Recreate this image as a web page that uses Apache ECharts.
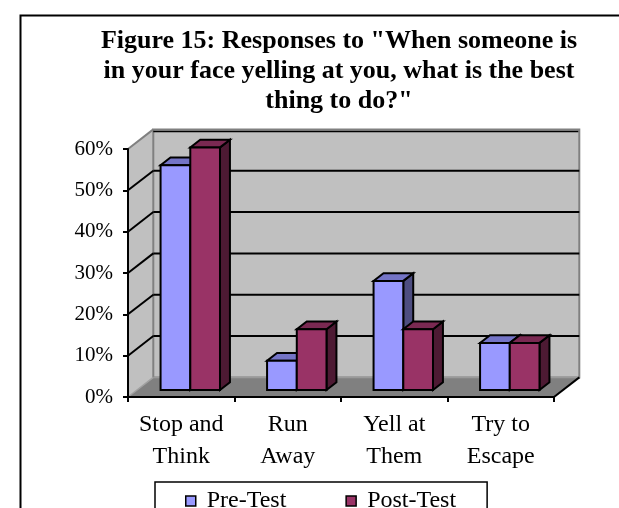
<!DOCTYPE html>
<html>
<head>
<meta charset="utf-8">
<script src="https://cdn.jsdelivr.net/npm/echarts@6/dist/echarts.min.js"></script>
<style>
  html, body { margin: 0; padding: 0; background: #fff; }
  #chart { width: 619px; height: 508px; }
</style>
</head>
<body>
<div id="chart"></div>
<script>
// Survey answers, percent of respondents
const categories = ['Stop and\nThink', 'Run\nAway', 'Yell at\nThem', 'Try to\nEscape'];
const seriesNames = ['Pre-Test', 'Post-Test'];
const preTest = [54.4, 7.1, 26.4, 11.4];
const postTest = [58.7, 14.7, 14.7, 11.4];
const yMax = 60;
const yStep = 10;

const titleText = 'Figure 15: Responses to "When someone is\nin your face yelling at you, what is the best\nthing to do?"';

// Oblique projection used for the pseudo-3D look
const DX = 25.3, DY = -19.6;           // full depth offset
const F_FRONT = 0.357, F_BACK = 0.75;  // depth slab occupied by the columns
const BAR_FRAC = 0.279;                // column width as share of a category band

const FONT = "'Liberation Serif', 'Times New Roman', serif";

const palette = [
  { front: '#9999FF', top: '#7474C6', side: '#4D4D80' },
  { front: '#993366', top: '#7A2952', side: '#4D1A33' }
];

function renderWalls(params, api) {
  const cs = params.coordSys;
  const x0 = cs.x, x1 = cs.x + cs.width;
  const y0 = api.coord([0, 0])[1];
  const yT = api.coord([0, yMax])[1];
  const kids = [];
  // left side wall
  kids.push({ type: 'polygon', shape: { points: [[x0, y0], [x0, yT], [x0 + DX, yT + DY], [x0 + DX, y0 + DY]] },
    style: { fill: '#C0C0C0', stroke: null } });
  // back wall
  kids.push({ type: 'rect', shape: { x: x0 + DX, y: yT + DY, width: x1 - x0, height: y0 - yT },
    style: { fill: '#C0C0C0', stroke: '#808080', lineWidth: 2 } });
  // floor
  kids.push({ type: 'polygon', shape: { points: [[x0, y0], [x1, y0], [x1 + DX, y0 + DY], [x0 + DX, y0 + DY]] },
    style: { fill: '#808080', stroke: null } });
  // floor back edge and left edge
  kids.push({ type: 'line', shape: { x1: x0 + DX, y1: y0 + DY, x2: x1 + DX, y2: y0 + DY },
    style: { stroke: '#9a9a9a', lineWidth: 1.5 } });
  kids.push({ type: 'line', shape: { x1: x0, y1: y0, x2: x0 + DX, y2: y0 + DY },
    style: { stroke: '#a0a0a0', lineWidth: 1.5 } });
  // top edge of left wall
  kids.push({ type: 'line', shape: { x1: x0, y1: yT, x2: x0 + DX, y2: yT + DY },
    style: { stroke: '#808080', lineWidth: 2 } });
  // gridlines on back and side wall
  for (let v = yStep; v < yMax; v += yStep) {
    const y = api.coord([0, v])[1];
    kids.push({ type: 'line', shape: { x1: x0 + DX, y1: y + DY, x2: x1 + DX, y2: y + DY },
      style: { stroke: '#000', lineWidth: 2 } });
    kids.push({ type: 'line', shape: { x1: x0, y1: y, x2: x0 + DX, y2: y + DY },
      style: { stroke: '#000', lineWidth: 2 } });
  }
  // 60% line under the top edge of the back wall
  kids.push({ type: 'line', shape: { x1: x0 + DX, y1: yT + DY + 2, x2: x1 + DX - 1, y2: yT + DY + 2 },
    style: { stroke: '#000', lineWidth: 1.5 } });
  // right edge of the floor
  kids.push({ type: 'line', shape: { x1: x1, y1: y0, x2: x1 + DX, y2: y0 + DY },
    style: { stroke: '#000', lineWidth: 2 } });
  return { type: 'group', children: kids };
}

function makeBarRenderer(k) {
  const col = palette[k];
  return function (params, api) {
    const i = api.value(0);
    const v = api.value(1);
    const top = api.coord([i, v]);
    const base = api.coord([i, 0]);
    const band = api.size([1, 0])[0];
    const w = band * BAR_FRAC;
    const xl = top[0] - w + k * w;
    const ox1 = DX * F_FRONT, oy1 = DY * F_FRONT;
    const ox2 = DX * F_BACK, oy2 = DY * F_BACK;
    const t1 = top[1] + oy1, b1 = base[1] + oy1;
    const t2 = top[1] + oy2, b2 = base[1] + oy2;
    const L1 = xl + ox1, R1 = xl + w + ox1;
    const L2 = xl + ox2, R2 = xl + w + ox2;
    const line = { stroke: '#000', lineWidth: 2, lineJoin: 'miter' };
    return {
      type: 'group',
      children: [
        { type: 'polygon', shape: { points: [[R1, t1], [R2, t2], [R2, b2], [R1, b1]] },
          style: Object.assign({ fill: col.side }, line) },
        { type: 'polygon', shape: { points: [[L1, t1], [R1, t1], [R2, t2], [L2, t2]] },
          style: Object.assign({ fill: col.top }, line) },
        { type: 'rect', shape: { x: L1, y: t1, width: w, height: b1 - t1 },
          style: Object.assign({ fill: col.front }, line) }
      ]
    };
  };
}

const chart = echarts.init(document.getElementById('chart'), null, { renderer: 'canvas' });

const option = {
  animation: false,
  backgroundColor: '#fff',
  title: {
    text: titleText,
    left: 334,
    top: 21,
    textAlign: 'center',
    textStyle: { fontFamily: FONT, fontSize: 26, fontWeight: 'bold', lineHeight: 30, color: '#000' }
  },
  graphic: [{
    type: 'rect', left: 18, top: 13, z: -10,
    shape: { width: 700, height: 600 },
    style: { fill: null, stroke: '#000', lineWidth: 2 }
  }],
  legend: {
    data: seriesNames,
    left: 155,
    top: 482,
    orient: 'horizontal',
    icon: 'rect',
    itemWidth: 10,
    itemHeight: 10,
    itemGap: 59,
    padding: [7, 31, 20, 30],
    borderColor: '#000',
    borderWidth: 1.5,
    itemStyle: { borderColor: '#000', borderWidth: 1.5 },
    textStyle: { fontFamily: FONT, fontSize: 24, color: '#000', lineHeight: 24, padding: [0, 0, 0, 6] }
  },
  grid: { left: 128, right: 65, top: 149, bottom: 111, containLabel: false },
  xAxis: {
    type: 'category',
    data: categories,
    z: 10,
    axisLine: { lineStyle: { color: '#000', width: 2 } },
    axisTick: { show: true, length: 5, lineStyle: { color: '#000', width: 2 } },
    axisLabel: { fontFamily: FONT, fontSize: 24, color: '#000', lineHeight: 32, margin: 12, interval: 0 },
    splitLine: { show: false }
  },
  yAxis: {
    type: 'value',
    min: 0,
    max: yMax,
    interval: yStep,
    z: 10,
    axisLine: { show: true, lineStyle: { color: '#000', width: 2 } },
    axisTick: { show: true, length: 5, lineStyle: { color: '#000', width: 2 } },
    axisLabel: { fontFamily: FONT, fontSize: 21, color: '#000', margin: 15, formatter: '{value}%' },
    splitLine: { show: false }
  },
  series: [
    {
      name: 'walls',
      type: 'custom',
      renderItem: renderWalls,
      data: [[0, 0]],
      z: 1,
      silent: true
    },
    {
      name: seriesNames[0],
      type: 'custom',
      renderItem: makeBarRenderer(0),
      itemStyle: { color: palette[0].front },
      data: preTest.map((v, i) => [i, v]),
      z: 3
    },
    {
      name: seriesNames[1],
      type: 'custom',
      renderItem: makeBarRenderer(1),
      itemStyle: { color: palette[1].front },
      data: postTest.map((v, i) => [i, v]),
      z: 4
    }
  ]
};

chart.setOption(option);
</script>
</body>
</html>
